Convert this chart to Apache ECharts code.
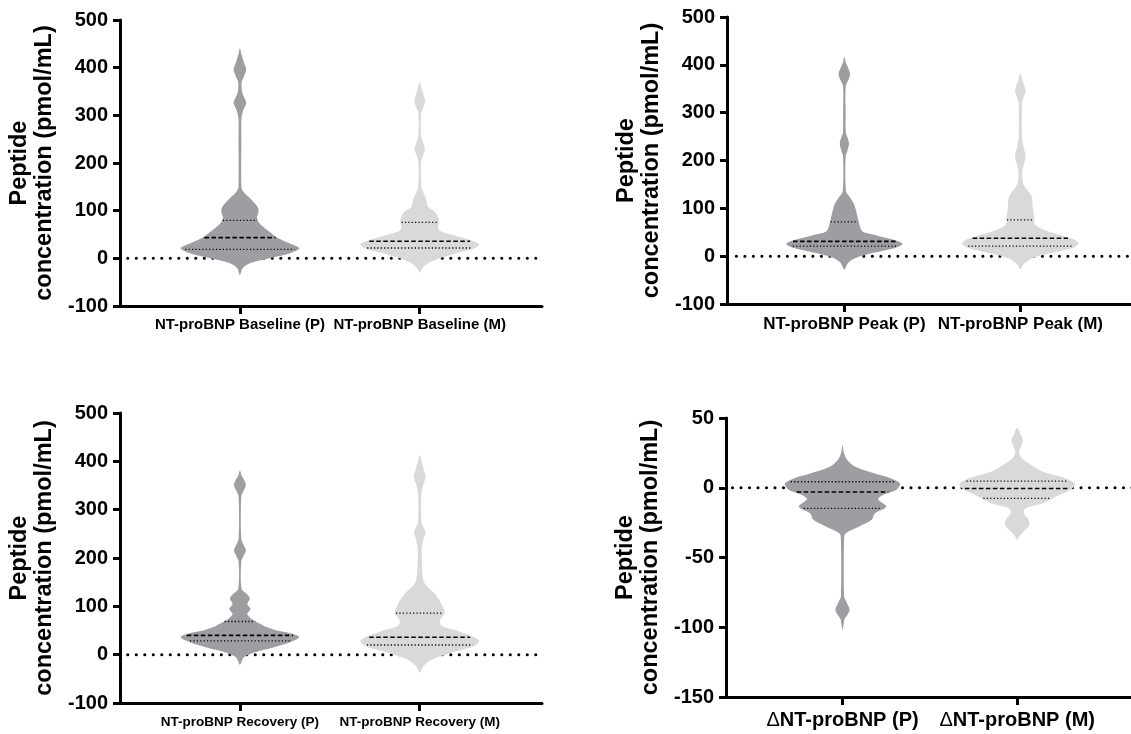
<!DOCTYPE html>
<html>
<head>
<meta charset="utf-8">
<script src="https://cdn.jsdelivr.net/npm/echarts@6/dist/echarts.min.js"></script>
<style>
  html, body { margin: 0; padding: 0; background: #fff; }
  #chart { width: 1131px; height: 734px; }
</style>
</head>
<body>
<div id="chart"></div>
<script>
// violin outlines: [value, relative half width]
var baselineP = [[441, 0], [428, 0.025], [410, 0.07], [396, 0.107], [382, 0.07], [370, 0.03], [350, 0.035],
  [338, 0.07], [326, 0.107], [312, 0.06], [294, 0.026], [250, 0.024], [150, 0.025], [140, 0.056], [126, 0.169],
  [115, 0.253], [105, 0.309], [94, 0.309], [87, 0.287], [77, 0.309], [66, 0.393], [52, 0.534], [42, 0.646],
  [31, 0.843], [21, 1.0], [10.5, 0.843], [0, 0.5], [-10.5, 0.169], [-21, 0.045], [-35, 0]];
var baselineM = [[371, 0], [360, 0.025], [345, 0.06], [329, 0.09], [314, 0.05], [304, 0.022], [260, 0.022],
  [245, 0.05], [229, 0.084], [214, 0.05], [203, 0.022], [150, 0.028], [136, 0.067], [122, 0.112], [108, 0.14],
  [98, 0.253], [87, 0.309], [77, 0.326], [66, 0.309], [58, 0.337], [49, 0.562], [38.5, 0.843], [30, 1.0],
  [21, 0.927], [10.5, 0.618], [0, 0.337], [-10.5, 0.14], [-21, 0.045], [-30, 0]];
var peakP = [[417, 0], [405, 0.025], [392, 0.07], [380, 0.101], [366, 0.06], [354, 0.022], [300, 0.022],
  [258, 0.025], [246, 0.06], [234, 0.079], [220, 0.05], [208, 0.022], [135, 0.028], [125, 0.084], [111, 0.157],
  [97, 0.197], [83, 0.225], [69, 0.253], [52, 0.309], [45, 0.506], [38, 0.73], [31, 0.93], [25, 1.0],
  [17, 0.871], [7, 0.506], [-3.5, 0.197], [-14, 0.067], [-28, 0]];
var peakM = [[383, 0], [370, 0.03], [356, 0.07], [344, 0.09], [330, 0.05], [319, 0.028], [250, 0.028],
  [230, 0.05], [217, 0.08], [205, 0.09], [192, 0.06], [177, 0.034], [153, 0.045], [139, 0.112], [125, 0.197],
  [104, 0.213], [83, 0.236], [66, 0.253], [56, 0.393], [45, 0.674], [35, 0.927], [26, 1.0], [17, 0.899],
  [7, 0.562], [-3.5, 0.225], [-17, 0.056], [-28, 0]];
var recoveryP = [[381, 0], [370, 0.03], [362, 0.07], [351, 0.101], [339, 0.06], [327, 0.022], [240, 0.022],
  [228, 0.06], [216, 0.101], [204, 0.06], [192, 0.022], [136, 0.028], [126, 0.112], [116, 0.169], [105, 0.124],
  [95, 0.18], [84, 0.124], [74, 0.197], [64, 0.337], [57, 0.449], [50, 0.618], [43, 0.899], [36, 1.0],
  [25.6, 0.843], [15, 0.562], [5, 0.253], [-5.5, 0.067], [-21, 0]];
var recoveryM = [[413, 0], [400, 0.03], [382, 0.07], [368, 0.101], [352, 0.06], [334, 0.028], [275, 0.028],
  [264, 0.06], [254, 0.096], [238, 0.06], [219.5, 0.034], [167.6, 0.045], [147, 0.084], [126, 0.253],
  [105, 0.365], [86, 0.421], [70.6, 0.337], [60, 0.365], [50, 0.618], [39.5, 0.843], [29, 1.0], [18.7, 0.927],
  [5, 0.562], [-9, 0.225], [-23, 0.067], [-37, 0]];
var deltaP = [[30.5, 0], [24.5, 0.028], [19.8, 0.084], [15, 0.225], [10.2, 0.562], [6.7, 0.843], [3, 1.0],
  [-1.7, 0.927], [-5.2, 0.702], [-8.3, 0.618], [-13.6, 0.758], [-18.3, 0.562], [-23, 0.506], [-27.9, 0.281],
  [-32.6, 0.056], [-36.2, 0.028], [-78, 0.028], [-82, 0.07], [-87.4, 0.124], [-92, 0.07], [-94.5, 0.034],
  [-101.7, 0]];
var deltaM = [[43, 0], [38, 0.06], [34, 0.101], [30, 0.07], [25.7, 0.034], [21, 0.084], [16.2, 0.253],
  [11.4, 0.449], [6.7, 0.843], [3.1, 1.0], [-0.5, 0.955], [-5.2, 0.73], [-11.2, 0.449], [-14.8, 0.14],
  [-18.3, 0.112], [-23, 0.197], [-26.7, 0.213], [-31.4, 0.112], [-35, 0.034], [-37.9, 0]];

// quartiles: [Q1, median, Q3]
var baselineP_q = [18.9, 43.4, 79.7];
var baselineM_q = [21.7, 35.7, 75.5];
var peakP_q = [21, 31, 71.5];
var peakM_q = [21, 37.5, 76];
var recoveryP_q = [28.4, 40, 68.6];
var recoveryM_q = [20, 36, 86];
var deltaP_q = [-14.8, -3.1, 4.3];
var deltaM_q = [-7.6, -0.5, 4.8];

var baselineNames = ['NT-proBNP Baseline (P)', 'NT-proBNP Baseline (M)'];
var peakNames = ['NT-proBNP Peak (P)', 'NT-proBNP Peak (M)'];
var recoveryNames = ['NT-proBNP Recovery (P)', 'NT-proBNP Recovery (M)'];
var deltaNames = ['ΔNT-proBNP (P)', 'ΔNT-proBNP (M)'];

var yTitle = 'Peptide\nconcentration (pmol/mL)';
var colors = ['#9e9da2', '#d9d9d9'];
var MAX_HW = 0.33;
var X_MIN = 0.333, X_MAX = 2.68;
var FONT = 'Liberation Sans, Arial, Helvetica, sans-serif';

var panels = [
  { names: baselineNames, violins: [baselineP, baselineM], quart: [baselineP_q, baselineM_q],
    yMin: -100, yMax: 500, yStep: 100, grid: { left: 120, right: 589, top: 20, bottom: 428 }, labelSize: 15, labelMargin: 11, zeroFrom: 0.376 },
  { names: peakNames, violins: [peakP, peakM], quart: [peakP_q, peakM_q],
    yMin: -100, yMax: 500, yStep: 100, grid: { left: 727, right: -9, top: 17, bottom: 430 }, labelSize: 17, labelMargin: 12, zeroFrom: 0.386 },
  { names: recoveryNames, violins: [recoveryP, recoveryM], quart: [recoveryP_q, recoveryM_q],
    yMin: -100, yMax: 500, yStep: 100, grid: { left: 120, right: 589, top: 413, bottom: 31 }, labelSize: 13.5, labelMargin: 12, zeroFrom: 0.376 },
  { names: deltaNames, violins: [deltaP, deltaM], quart: [deltaP_q, deltaM_q],
    yMin: -150, yMax: 50, yStep: 50, grid: { left: 726, right: -5, top: 418, bottom: 37 }, labelSize: 20, labelMargin: 13, zeroFrom: 0.37 }
];

function halfAt(profile, v) {
    for (var i = 0; i < profile.length - 1; i++) {
        var a = profile[i], b = profile[i + 1];
        if (v <= a[0] && v >= b[0]) {
            var t = (a[0] - v) / (a[0] - b[0]);
            return a[1] + (b[1] - a[1]) * t;
        }
    }
    return 0;
}

function violinRenderer(panel) {
    return function (params, api) {
        var i = params.dataIndex;
        var prof = panel.violins[i];
        var c = api.value(0);
        var right = prof.map(function (p) { return api.coord([c + p[1] * MAX_HW, p[0]]); });
        var left = prof.slice(1, -1).reverse().map(function (p) { return api.coord([c - p[1] * MAX_HW, p[0]]); });
        var children = [{
            type: 'polygon',
            shape: { points: right.concat(left), smooth: 0.3 },
            style: { fill: colors[i] }
        }];
        panel.quart[i].forEach(function (q, k) {
            var hw = halfAt(prof, q) * MAX_HW * 0.95;
            var a = api.coord([c - hw, q]), b = api.coord([c + hw, q]);
            children.push({
                type: 'line',
                shape: { x1: a[0], y1: a[1], x2: b[0], y2: b[1] },
                style: k === 1
                    ? { stroke: '#000', lineWidth: 1.6, lineDash: [4.5, 2.5] }
                    : { stroke: '#000', lineWidth: 1.3, lineDash: [1.2, 2.2] }
            });
        });
        return { type: 'group', children: children };
    };
}

var option = { backgroundColor: '#fff', animation: false, grid: [], xAxis: [], yAxis: [], series: [] };

panels.forEach(function (p, idx) {
    option.grid.push(Object.assign({ containLabel: false, outerBoundsMode: 'none' }, p.grid));
    option.xAxis.push({
        type: 'value', gridIndex: idx, min: X_MIN, max: X_MAX,
        axisLine: { onZero: false, lineStyle: { color: '#000', width: 3 } },
        axisTick: { customValues: [1, 2], length: 8, lineStyle: { color: '#000', width: 3 } },
        axisLabel: {
            customValues: [1, 2], margin: p.labelMargin,
            color: '#000', fontFamily: FONT, fontWeight: 'bold', fontSize: p.labelSize,
            formatter: function (v) {
                var s = p.names[Math.round(v) - 1] || '';
                return s.indexOf('Δ') === 0 ? '{d|Δ}' + s.slice(1) : s;
            },
            rich: { d: { fontFamily: FONT, fontWeight: 'normal', fontSize: p.labelSize, color: '#000' } }
        },
        splitLine: { show: false }
    });
    option.yAxis.push({
        type: 'value', gridIndex: idx, min: p.yMin, max: p.yMax, interval: p.yStep,
        name: yTitle, nameLocation: 'middle', nameRotate: 90, nameGap: 63,
        nameTextStyle: { color: '#000', fontFamily: FONT, fontWeight: 'bold', fontSize: 23.5, lineHeight: 25 },
        axisLine: { show: true, onZero: false, lineStyle: { color: '#000', width: 3 } },
        axisTick: { show: true, length: 7, lineStyle: { color: '#000', width: 3 } },
        axisLabel: { margin: 12, color: '#000', fontFamily: FONT, fontWeight: 'bold', fontSize: 20 },
        splitLine: { show: false }
    });
    // dotted zero reference, behind the violins
    option.series.push({
        type: 'line', xAxisIndex: idx, yAxisIndex: idx, z: 1, symbol: 'none', silent: true,
        data: [[p.zeroFrom, 0], [X_MAX, 0]],
        lineStyle: { color: '#000', width: 3, type: [0.1, 8.4], cap: 'round' }
    });
    option.series.push({
        type: 'custom', xAxisIndex: idx, yAxisIndex: idx, z: 2,
        renderItem: violinRenderer(p),
        encode: { x: 0, y: 1 },
        data: [[1, 0], [2, 0]]
    });
});

var chart = echarts.init(document.getElementById('chart'));
chart.setOption(option);
</script>
</body>
</html>
